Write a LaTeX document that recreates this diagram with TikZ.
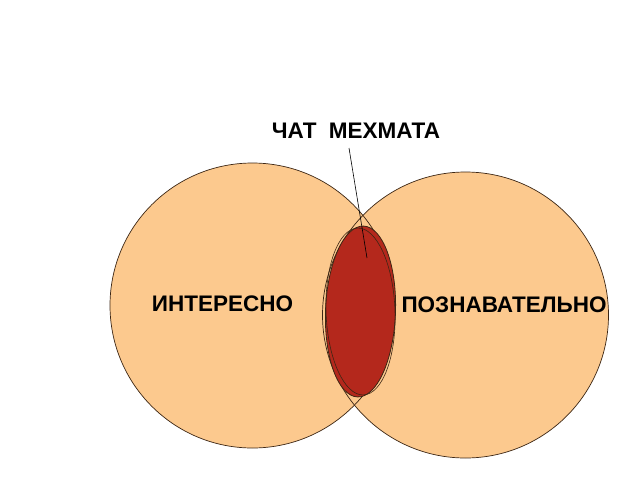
\documentclass[tikz,border=0pt]{standalone}
\usepackage{fontspec}
\setmainfont{Liberation Sans}
\usetikzlibrary{shapes.geometric}
\definecolor{peach}{RGB}{252,201,142}
\definecolor{brick}{RGB}{180,40,28}
\definecolor{edge}{RGB}{60,38,20}
\begin{document}
\begin{tikzpicture}[x=1pt,y=-1pt,
  lbl/.style={font=\bfseries\fontsize{22.5}{26}\selectfont, inner sep=0pt},
  set/.style={fill=peach}]
\useasboundingbox (0,0) rectangle (640,480);
\fill[peach] (252.5,305.5) circle (142.5);
\fill[peach] (465.5,315) circle (143);
\draw[edge, line width=0.7pt] (252.5,305.5) circle (142.5);
\draw[edge, line width=0.7pt] (465.5,315) circle (143);
\node[ellipse, draw=edge, fill=brick, line width=0.8pt, minimum width=70pt, minimum height=171pt, inner sep=0pt, rotate=-2] (chat) at (360.5,311.5) {};
\draw[edge, line width=0.6pt, rotate around={2:(360.5,311.5)}] (360.5,311.5) ellipse (34.5 and 83.5);
\node[lbl] (title) at (356,131) {ЧАТ\ \ МЕХМАТА};
\node[lbl] (int) at (222.5,304) {ИНТЕРЕСНО};
\node[lbl] (poz) at (504,305) {ПОЗНАВАТЕЛЬНО};
\coordinate (tip) at (367,258);
\draw[black, line width=0.6pt] (349,148) -- (tip);
\end{tikzpicture}
\end{document}
